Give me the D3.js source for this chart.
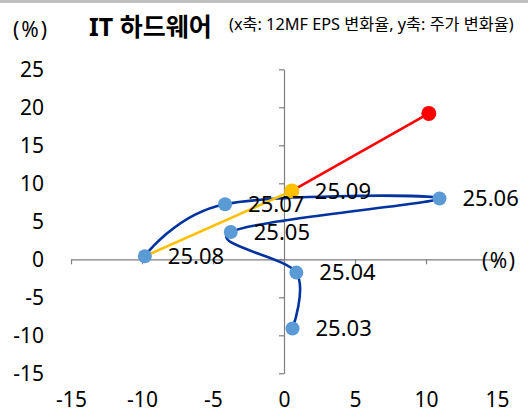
<!DOCTYPE html>
<html>
<head>
<meta charset="utf-8">
<script src="https://cdn.jsdelivr.net/npm/d3@7"></script>
<style>
  html, body { margin: 0; padding: 0; background: #fff; }
  svg { display: block; font-family: "Noto Sans", "Noto Sans CJK KR", sans-serif; }
</style>
</head>
<body>
<svg id="chart" width="528" height="412"></svg>
<script>
// Data (x: 12MF EPS change %, y: price change %)
var months = ['25.03', '25.04', '25.05', '25.06', '25.07', '25.08'];
var epsChange = [0.6, 0.87, -3.75, 10.95, -4.15, -9.8];
var priceChange = [-9.1, -1.75, 3.6, 8.0, 7.25, 0.4];
var lastMonth = '25.09';
var lastEps = 0.55;
var lastPrice = 9.0;
var nowEps = 10.2;
var nowPrice = 19.2;
var xTicks = [-15, -10, -5, 0, 5, 10, 15];
var yTicks = [-15, -10, -5, 0, 5, 10, 15, 20, 25];

var svg = d3.select('#chart');

// Scales
var x = d3.scaleLinear().domain([-15, 15]).range([71, 497]);
var y = d3.scaleLinear().domain([-15, 25]).range([373.3, 69.3]);

var axisColor = '#7f7f7f';
var plain = function (d) { return String(d); }; // keep the short hyphen minus

// Top grey rule
svg.append('rect')
    .attr('x', 0).attr('y', 0)
    .attr('width', 528).attr('height', 3)
    .attr('fill', '#bfbfbf');

// Header
svg.append('text')
    .attr('x', 13).attr('y', 37)
    .attr('font-size', 21)
    .attr('letter-spacing', 2)
    .attr('fill', '#000')
    .text('(%)');
svg.append('text')
    .attr('x', 89).attr('y', 36)
    .attr('font-size', 25)
    .attr('font-weight', 'bold')
    .attr('fill', '#000')
    .text('IT 하드웨어');
svg.append('text')
    .attr('x', 229).attr('y', 30)
    .attr('font-size', 16.3)
    .attr('fill', '#000')
    .text('(x축: 12MF EPS 변화율, y축: 주가 변화율)');

// Axis lines crossing at the origin
var xAxisLine = svg.append('g')
    .attr('transform', 'translate(0,' + y(0) + ')')
    .call(d3.axisBottom(x).tickValues(xTicks).tickSize(5).tickSizeOuter(0).tickFormat(''));
var yAxisLine = svg.append('g')
    .attr('transform', 'translate(' + x(0) + ',0)')
    .call(d3.axisLeft(y).tickValues(yTicks).tickSize(5).tickSizeOuter(0).tickFormat(''));
[xAxisLine, yAxisLine].forEach(function (g) {
    g.select('.domain').attr('stroke', axisColor).attr('stroke-width', 1.2);
    g.selectAll('.tick line').attr('stroke', axisColor).attr('stroke-width', 1.2);
});

// Tick labels sit at the chart edges
var xLabels = svg.append('g')
    .attr('transform', 'translate(0,392.5)')
    .call(d3.axisBottom(x).tickValues(xTicks).tickSize(0).tickPadding(0).tickFormat(plain));
var yLabels = svg.append('g')
    .attr('transform', 'translate(44,0)')
    .call(d3.axisLeft(y).tickValues(yTicks).tickSize(0).tickPadding(0).tickFormat(plain));
[xLabels, yLabels].forEach(function (g) {
    g.select('.domain').remove();
    g.selectAll('text')
        .attr('font-family', '"Noto Sans", sans-serif')
        .attr('font-size', 21)
        .attr('fill', '#000');
});

// Unit label at the end of the x axis
svg.append('text')
    .attr('x', 482).attr('y', y(0) + 3)
    .attr('dominant-baseline', 'middle')
    .attr('font-size', 21)
    .attr('letter-spacing', 1.5)
    .attr('fill', '#000')
    .text('(%)');

// Series
var pts = months.map(function (m, i) { return { label: m, x: epsChange[i], y: priceChange[i] }; });
var last = { label: lastMonth, x: lastEps, y: lastPrice };
var now = { label: '', x: nowEps, y: nowPrice };

var line = d3.line()
    .x(function (d) { return x(d.x); })
    .y(function (d) { return y(d.y); });

svg.append('path')
    .attr('d', line.curve(d3.curveCardinal.tension(0))(pts))
    .attr('fill', 'none')
    .attr('stroke', '#0033a0')
    .attr('stroke-width', 2.6);

var straight = d3.line()
    .x(function (d) { return x(d.x); })
    .y(function (d) { return y(d.y); });

svg.append('path')
    .attr('d', straight([pts[pts.length - 1], last]))
    .attr('fill', 'none')
    .attr('stroke', '#ffc000')
    .attr('stroke-width', 2.6);

svg.append('path')
    .attr('d', straight([last, now]))
    .attr('fill', 'none')
    .attr('stroke', '#ff0000')
    .attr('stroke-width', 2.6);

// Markers
svg.selectAll('circle.month')
    .data(pts)
    .enter()
    .append('circle')
    .classed('month', true)
    .attr('cx', function (d) { return x(d.x); })
    .attr('cy', function (d) { return y(d.y); })
    .attr('r', 7)
    .attr('fill', '#5b9bd5');

svg.append('circle')
    .attr('cx', x(last.x)).attr('cy', y(last.y))
    .attr('r', 7.5)
    .attr('fill', '#ffc000');

svg.append('circle')
    .attr('cx', x(now.x)).attr('cy', y(now.y))
    .attr('r', 7.5)
    .attr('fill', '#ff0000');

// Month labels
svg.selectAll('text.month')
    .data(pts.concat([last]))
    .enter()
    .append('text')
    .classed('month', true)
    .attr('x', function (d) { return x(d.x) + 23; })
    .attr('y', function (d) { return y(d.y) + 2; })
    .attr('dominant-baseline', 'middle')
    .attr('font-size', 22)
    .attr('fill', '#000')
    .text(function (d) { return d.label; });
</script>
</body>
</html>
